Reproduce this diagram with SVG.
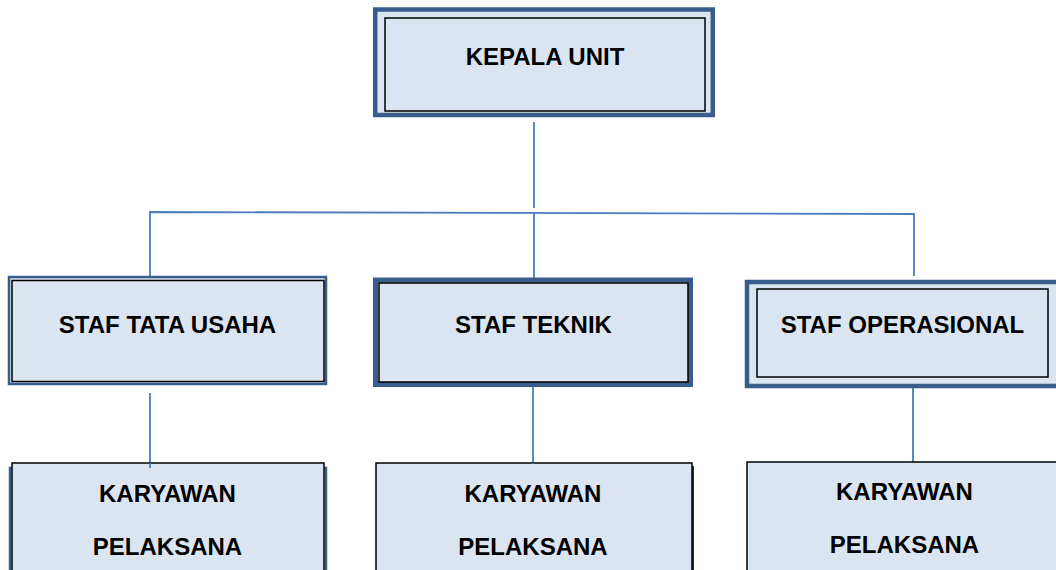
<svg xmlns="http://www.w3.org/2000/svg" width="1056" height="570" viewBox="0 0 1056 570">
<style>
.fill{fill:#dbe5f1}
.blue{fill:#dbe5f1;stroke:#385d8a}
.blk{fill:#dbe5f1;stroke:#000;stroke-width:1.5}
.con{fill:none;stroke:#4a7ebb;stroke-width:1.8}
text{font-family:"Liberation Sans",Arial,sans-serif;font-weight:bold;font-size:24px;fill:#000;text-anchor:middle}
</style>
<rect width="1056" height="570" fill="#fff"/>
<g id="connectors">
<line class="con" x1="534" y1="122" x2="534" y2="208"/>
<polyline class="con" points="150,276 150,212 914,214 914,276"/>
<line class="con" x1="534" y1="213" x2="534" y2="278"/>
<line class="con" x1="150" y1="393" x2="150" y2="468"/>
<line class="con" x1="533" y1="387" x2="533" y2="463"/>
<line class="con" x1="913" y1="388" x2="913" y2="462"/>
</g>
<g id="kepala-unit">
<rect class="blue" x="375.2" y="9.5" width="337.6" height="105.5" stroke-width="4.5"/>
<rect class="blk" x="385" y="18" width="320" height="93"/>
<text x="545" y="65">KEPALA UNIT</text>
</g>
<g id="staf-tata-usaha">
<rect class="blue" x="9" y="277" width="317" height="107" stroke-width="2.5"/>
<rect class="blk" x="12" y="280.5" width="312" height="101"/>
<text x="167.5" y="333">STAF TATA USAHA</text>
</g>
<g id="staf-teknik">
<rect class="blue" x="375.5" y="280" width="315" height="104.5" stroke-width="5"/>
<rect class="blk" x="379" y="283" width="309" height="99"/>
<text x="533.5" y="333">STAF TEKNIK</text>
</g>
<g id="staf-operasional">
<rect class="blue" x="747" y="282" width="330" height="104" stroke-width="4.5"/>
<rect class="blk" x="757" y="289" width="291" height="88"/>
<text x="902.5" y="333">STAF OPERASIONAL</text>
</g>
<g id="karyawan-1">
<rect class="blue" x="10" y="468" width="316" height="120" stroke-width="2.5"/>
<rect class="blk" x="12" y="463" width="312" height="120"/>
<line class="con" x1="150" y1="463" x2="150" y2="468"/>
<text x="167.5" y="502">KARYAWAN</text>
<text x="167.5" y="555">PELAKSANA</text>
</g>
<g id="karyawan-2">
<rect x="378" y="466" width="316" height="120" fill="#1f3550"/>
<rect class="blk" x="376" y="463" width="316" height="120"/>
<line class="con" x1="533" y1="463" x2="533" y2="464"/>
<text x="533" y="502">KARYAWAN</text>
<text x="533" y="555">PELAKSANA</text>
</g>
<g id="karyawan-3">
<rect class="blk" x="747" y="462" width="330" height="120"/>
<text x="904.5" y="500">KARYAWAN</text>
<text x="904.5" y="553">PELAKSANA</text>
</g>
</svg>
